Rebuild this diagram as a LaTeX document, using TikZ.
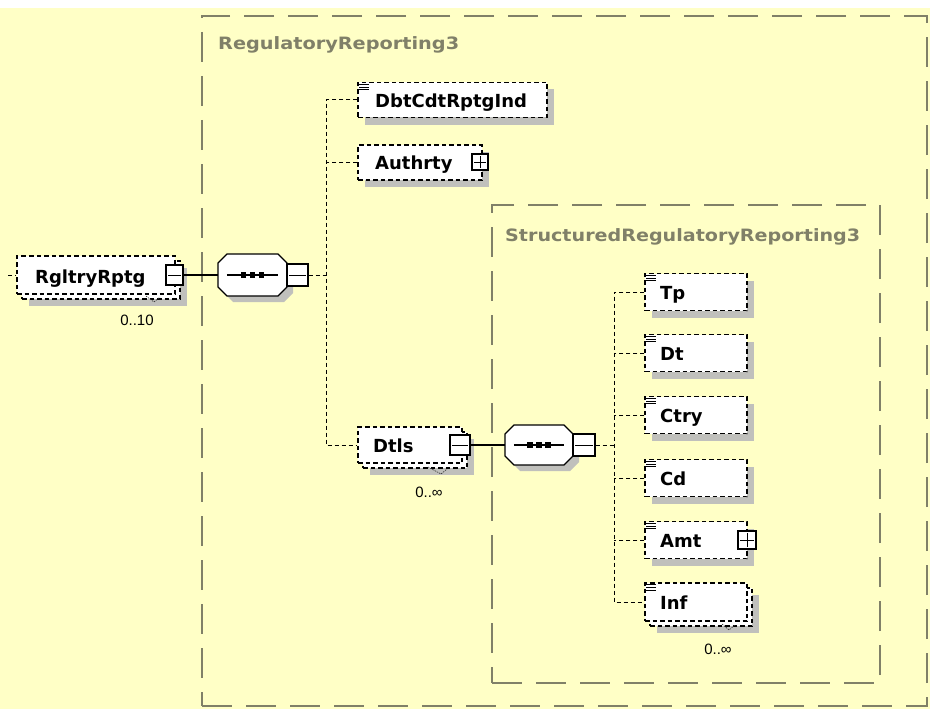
\documentclass[tikz,border=0pt]{standalone}
\usepackage{fontspec}
\setmainfont{DejaVu Sans}
\newfontfamily\labfont{Liberation Sans}
\usetikzlibrary{fit}
\definecolor{bgy}{RGB}{255,255,198}
\definecolor{grp}{RGB}{128,128,104}
\definecolor{shd}{RGB}{192,192,188}

\newcommand\xelem[5]{%
  \fill[shd] ({#2+7},{#3+7}) rectangle ({#4+7},{#5+7});
  \node[elbox, fit={(#2,#3) (#4,#5)}] (#1) {};}
\newcommand\xelemmulti[5]{%
  \fill[shd] ({#2+12},{#3+12}) rectangle ({#4+12},{#5+12});
  \node[elbox, fit={({#2+5},{#3+5}) ({#4+5},{#5+5})}] (#1back) {};
  \node[elbox, fit={(#2,#3) (#4,#5)}] (#1) {};}
\newcommand\xicon[1]{%
  \foreach \k in {2.4,5,7.6} \draw[line width=0.8pt] ([xshift=2pt,yshift=-\k pt]#1.north west) -- ++(10,0);}
\newcommand\xminus[5]{%
  \node[pmbox, fit={(#2,#3) (#4,#5)}] (#1) {};
  \draw[line width=1pt] ([xshift=3pt]#1.west) -- ([xshift=-3pt]#1.east);}
\newcommand\xplus[5]{%
  \node[pmbox, fit={(#2,#3) (#4,#5)}] (#1) {};
  \draw[line width=1pt] ([xshift=3pt]#1.west) -- ([xshift=-3pt]#1.east);
  \draw[line width=1pt] ([yshift=-3pt]#1.north) -- ([yshift=3pt]#1.south);}
\newcommand\octpath[4]{({#1+9},#2) -- ({#3-9},#2) -- (#3,{#2+9}) -- (#3,{#4-9}) -- ({#3-9},#4) -- ({#1+9},#4) -- (#1,{#4-9}) -- (#1,{#2+9}) -- cycle}
\newcommand\xseq[5]{%
  \fill[shd, shift={(6,6)}] \octpath{#2}{#3}{#4}{#5};
  \draw[fill=white, line width=1.1pt] \octpath{#2}{#3}{#4}{#5};
  \node[inner sep=0pt, fit={(#2,#3) (#4,#5)}] (#1) {};
  \draw[line width=1.1pt] ([xshift=9pt]#1.west) -- ([xshift=-9pt]#1.east);
  \foreach \dx in {-9,0,9} \fill ([xshift=\dx pt]#1.center) +(-2.6,-2.6) rectangle +(2.6,2.6);}

\begin{document}
\begin{tikzpicture}[x=1pt,y=-1pt,
  elbox/.style={draw=black, fill=white, line width=1.1pt, dash pattern=on 4.5pt off 3pt, inner sep=0pt},
  grpbox/.style={draw=grp, line width=1.3pt, dash pattern=on 30pt off 14pt, inner sep=0pt},
  grptitle/.style={text=grp, inner sep=0pt, font=\bfseries\fontsize{17}{20}\selectfont},
  conn/.style={draw=black, line width=1pt, dash pattern=on 4pt off 3pt},
  solidc/.style={draw=black, line width=1.1pt},
  pmbox/.style={draw=black, fill=white, line width=1.1pt, inner sep=0pt},
  eltext/.style={anchor=base west, inner sep=0pt, font=\fontsize{18}{21}\selectfont\bfseries},
  multlab/.style={anchor=base, inner sep=0pt, font=\labfont\fontsize{15}{18}\selectfont},
  tick/.style={draw=black!80, line width=0.6pt, dash pattern=on 1.5pt off 1pt}]
\useasboundingbox (0,0) rectangle (930,709);
\fill[white] (0,0) rectangle (930,709);
\fill[bgy] (0,8) rectangle (930,709);

% group boxes
\node[grpbox, fit={(202,16) (927,706)}] (g1) {};
\node[grptitle, anchor=base west] (g1t) at (218,50) {\resizebox{241pt}{\height}{RegulatoryReporting3}};
\node[grpbox, fit={(492,205) (880,683)}] (g2) {};
\node[grptitle, anchor=base west] (g2t) at (505,241) {\resizebox{355pt}{\height}{StructuredRegulatoryReporting3}};

% root element
\xelemmulti{rgl}{17}{256}{175}{294}
\node[eltext] (rglt) at (35,283) {RgltryRptg};
\xminus{rglm}{166}{265}{183}{285}
\draw[tick] (146,296) -- (154,302) -- (160,297);
\node[multlab] (rglmult) at (137,325) {0..10};

% sequence 1
\xseq{seq1}{218}{254}{287}{296}
\xminus{seq1m}{287}{264}{308}{286}

% children of RegulatoryReporting3
\xelem{dbt}{358}{82.5}{547}{117.5}
\xicon{dbt}
\node[eltext] (dbtt) at (375,107) {DbtCdtRptgInd};

\xelem{auth}{358}{145}{482}{180}
\node[eltext] (autht) at (375,169) {Authrty};
\xplus{authp}{472}{154}{488}{170}

\xelemmulti{dtls}{358}{427}{462}{463}
\node[eltext] (dtlst) at (373,452) {Dtls};
\xminus{dtlsm}{450}{435}{470}{455}
\draw[tick] (428,467) -- (441,474) -- (447,469);
\node[multlab] (dtlsmult) at (429,497) {0..∞};

% sequence 2
\xseq{seq2}{505}{425}{573}{465}
\xminus{seq2m}{573}{434}{595}{456}

% children of StructuredRegulatoryReporting3
\xelem{tp}{645}{273.5}{747}{310.5}
\xicon{tp}
\node[eltext] (tpt) at (660,299) {Tp};
\xelem{dt}{645}{334.5}{747}{371.5}
\xicon{dt}
\node[eltext] (dtt) at (660,360) {Dt};
\xelem{ctry}{645}{396.5}{747}{433.5}
\xicon{ctry}
\node[eltext] (ctryt) at (660,422) {Ctry};
\xelem{cd}{645}{459.5}{747}{496.5}
\xicon{cd}
\node[eltext] (cdt) at (660,485) {Cd};
\xelem{amt}{645}{521.5}{747}{558.5}
\xicon{amt}
\node[eltext] (amtt) at (660,547) {Amt};
\xplus{amtp}{738}{531}{756}{549}
\xelemmulti{inf}{645}{583}{747}{621}
\xicon{inf}
\node[eltext] (inft) at (660,609) {Inf};
\draw[tick] (722,624) -- (729,630) -- (735,625);
\node[multlab] (infmult) at (718,654) {0..∞};

% connectors
\coordinate (lft) at (8,275);
\draw[conn] (lft) -- (rgl.west);
\draw[solidc] (rglm.east) -- (seq1.west);
\coordinate (v1) at (326,275);
\draw[conn] (seq1m.east) -- (v1);
\draw[conn] (dbt.west) -- (dbt.west -| v1) -- (dtls.west -| v1) -- (dtls.west);
\draw[conn] (auth.west) -- (auth.west -| v1);
\draw[solidc] (dtlsm.east) -- (seq2.west);
\coordinate (v2) at (614,445);
\draw[conn] (seq2m.east) -- (v2);
\draw[conn] (tp.west) -- (tp.west -| v2) -- (inf.west -| v2) -- (inf.west);
\foreach \n in {dt,ctry,cd,amt} \draw[conn] (\n.west) -- (\n.west -| v2);
\end{tikzpicture}
\end{document}
